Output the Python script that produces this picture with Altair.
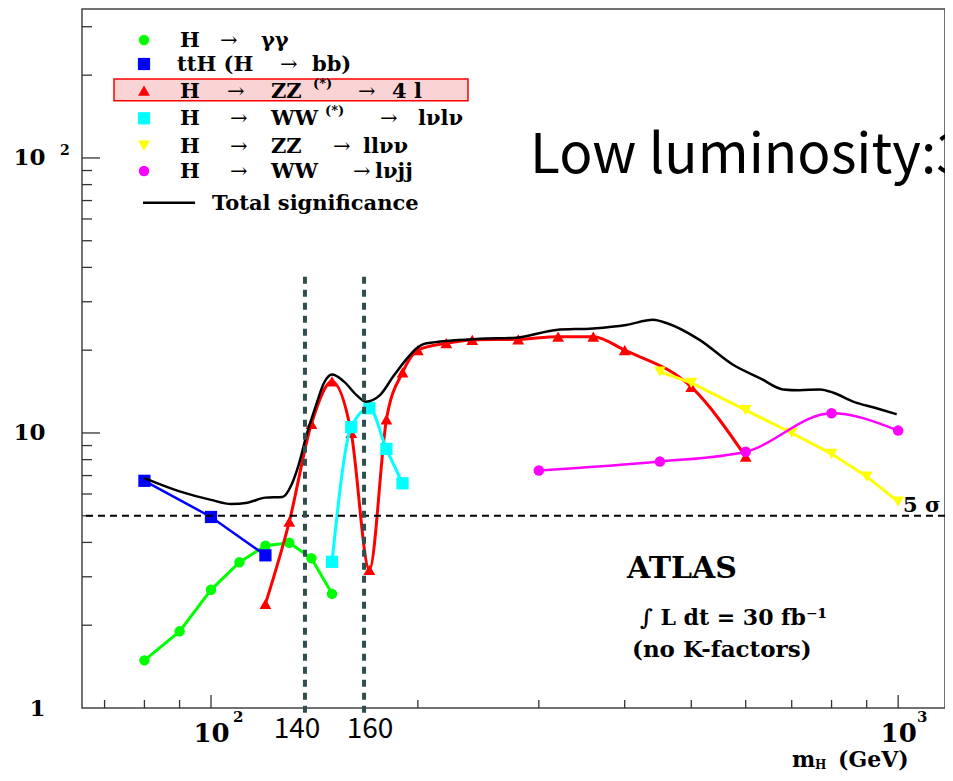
import altair as alt
import pandas as pd

# ---------------- data ----------------
gg_mass = [80, 90, 100, 110, 120, 130, 140, 150]
gg_sig = [1.49, 1.90, 2.69, 3.39, 3.89, 3.99, 3.50, 2.60]

tth_mass = [80, 100, 120]
tth_sig = [6.70, 4.95, 3.59]

zz4l_mass = [120, 130, 140, 150, 160, 170, 180, 190, 200, 220, 240, 280, 320, 360, 400, 500, 600]
zz4l_sig = [2.39, 4.76, 10.8, 15.4, 10.0, 3.18, 11.2, 16.6, 20.0, 21.2, 21.8, 21.9, 22.4, 22.4, 20.0, 14.7, 8.2]

wwlvlv_mass = [150, 160, 170, 180, 190]
wwlvlv_sig = [3.40, 10.5, 12.3, 8.75, 6.56]

zzllvv_mass = [450, 500, 600, 700, 800, 900, 1000]
zzllvv_sig = [16.7, 15.2, 12.1, 10.0, 8.4, 6.94, 5.63]

wwlvjj_mass = [300, 450, 600, 800, 1000]
wwlvjj_sig = [7.30, 7.87, 8.55, 11.8, 10.2]

total_mass = [80, 90, 100, 107, 113, 120, 127, 131, 134, 138, 142, 146, 150, 156, 163, 168,
              176, 184, 192, 199, 206, 246, 278, 318, 360, 402, 440, 460, 514, 575, 630,
              680, 718, 770, 805, 860, 930, 995]
total_sig = [6.85, 6.13, 5.71, 5.52, 5.58, 5.82, 5.85, 6.5, 7.6, 10.0, 12.5, 15.2, 16.3, 15.4,
             13.7, 13.0, 13.7, 16.0, 18.4, 20.3, 21.2, 22.0, 22.2, 23.7, 24.0, 24.7, 25.8,
             25.1, 21.8, 17.7, 15.8, 14.4, 14.3, 14.4, 14.0, 13.0, 12.3, 11.7]

five_sigma = [5]
marker_lines_mass = [137, 167]
marker_lines_top = [37, 37]
marker_lines_bottom = [0.96, 0.96]
marker_lines_labels = ["140", "160"]

x_major_ticks = [100, 1000]
x_minor_ticks = [70, 80, 90, 200, 300, 400, 500, 600, 700, 800, 900]
y_major_ticks = [10, 100]
y_minor_ticks = [2, 3, 4, 5, 6, 7, 8, 9, 20, 30, 40, 50, 60, 70, 80, 90, 200, 300]

legend_labels = ["H → γγ", "ttH (H → bb)", "H → ZZ(*) → 4 l", "H → WW(*) → lνlν",
                 "H → ZZ → llνν", "H → WW → lνjj", "Total significance"]

# ---------------- styling ----------------
SERIF = "DejaVu Serif"
SANS = "Noto Sans CJK JP"
W, H = 863, 699

xs = alt.Scale(type="log", domain=[64.9, 1170], nice=False, zero=False)
ys = alt.Scale(type="log", domain=[1, 348], nice=False, zero=False)

xaxis = alt.Axis(values=x_major_ticks, labelExpr="'10'", ticks=False, domain=False, grid=False,
                 title=None, labelFont=SERIF, labelFontWeight="bold", labelFontSize=26,
                 labelPadding=12, labelColor="black", labelFlush=False)
yaxis = alt.Axis(values=[1, 10, 100], labelExpr="datum.value == 1 ? '1' : '10'", ticks=False,
                 domain=False, grid=False, title=None, labelFont=SERIF, labelFontWeight="bold",
                 labelFontSize=23, labelPadding=37, labelColor="black")

one = pd.DataFrame({"k": [0]})
layers = []


def X(field):
    return alt.X(field, type="quantitative", scale=xs, axis=xaxis)


def Y(field):
    return alt.Y(field, type="quantitative", scale=ys, axis=yaxis)


def series(mass, sig, color, shape, size, interp, width):
    df = pd.DataFrame({"m": mass, "s": sig})
    base = alt.Chart(df).encode(x=X("m"), y=Y("s"))
    layers.append(base.mark_line(color=color, strokeWidth=width, interpolate=interp))
    layers.append(base.mark_point(shape=shape, filled=True, color=color, size=size, opacity=1))


# axis ticks (pointing inwards)
layers.append(alt.Chart(pd.DataFrame({"v": y_minor_ticks})).mark_rule(color="#333", strokeWidth=1.3)
              .encode(y=Y("v"), x=alt.value(0), x2=alt.value(10)))
layers.append(alt.Chart(pd.DataFrame({"v": y_major_ticks})).mark_rule(color="#333", strokeWidth=1.3)
              .encode(y=Y("v"), x=alt.value(0), x2=alt.value(18)))
layers.append(alt.Chart(pd.DataFrame({"v": x_minor_ticks})).mark_rule(color="#333", strokeWidth=1.3)
              .encode(x=X("v"), y=alt.value(H), y2=alt.value(H - 8)))
layers.append(alt.Chart(pd.DataFrame({"v": x_major_ticks})).mark_rule(color="#333", strokeWidth=1.3)
              .encode(x=X("v"), y=alt.value(H), y2=alt.value(H - 13)))

series(gg_mass, gg_sig, "#00ff00", "circle", 110, "linear", 3)
series(tth_mass, tth_sig, "#0000ff", "square", 150, "linear", 2.5)
series(zz4l_mass, zz4l_sig, "#ff0000", "triangle-up", 140, "monotone", 3)
series(wwlvlv_mass, wwlvlv_sig, "#00ffff", "square", 150, "monotone", 3)
series(zzllvv_mass, zzllvv_sig, "#ffff00", "triangle-down", 140, "linear", 3)
series(wwlvjj_mass, wwlvjj_sig, "#ff00ff", "circle", 110, "monotone", 2.5)

# total significance
layers.append(alt.Chart(pd.DataFrame({"m": total_mass, "s": total_sig}))
              .mark_line(color="black", strokeWidth=2.5, interpolate="monotone")
              .encode(x=X("m"), y=Y("s")))

# 5 sigma line
layers.append(alt.Chart(pd.DataFrame({"s": five_sigma}))
              .mark_rule(color="black", strokeWidth=2, strokeDash=[7, 5])
              .encode(y=Y("s")))

# vertical dashed marker lines
layers.append(alt.Chart(pd.DataFrame({"m": marker_lines_mass, "t": marker_lines_top,
                                      "b": marker_lines_bottom}))
              .mark_rule(color="#2f4f4f", strokeWidth=4, strokeDash=[7, 6])
              .encode(x=X("m"), y=Y("t"), y2="b"))


def txt(text, x, y, size, font=SERIF, weight="bold", align="left", color="black"):
    layers.append(alt.Chart(one).mark_text(text=text, font=font, fontWeight=weight,
                                           fontSize=size, align=align, baseline="alphabetic",
                                           color=color)
                  .encode(x=alt.value(x), y=alt.value(y)))


# axis superscripts and labels
txt("2", 151, 713, 15)
txt("3", 835, 713, 15)
txt("2", -22, 146, 14)
txt(marker_lines_labels[0], 215, 729, 28, font=SANS, weight="normal", align="center")
txt(marker_lines_labels[1], 288, 729, 28, font=SANS, weight="normal", align="center")
txt("m", 710, 758, 22)
txt("H", 733, 760, 12)
txt("(GeV)", 756, 758, 22)

# annotations
txt("Low luminosity:3", 448, 164, 55, font=SANS, weight="normal")
txt("ATLAS", 545, 569, 30)
txt("∫ L dt = 30 fb⁻¹", 558, 616, 22)
txt("(no K-factors)", 550, 648, 23)
txt("5 σ", 821, 503, 21)

# ---------------- legend ----------------
layers.append(alt.Chart(one).mark_rect(fill="#fad4d4", stroke="#ff0000", strokeWidth=1.5)
              .encode(x=alt.value(32), x2=alt.value(386), y=alt.value(70), y2=alt.value(91.7)))

leg_markers = [("circle", "#00ff00", 110, 31), ("square", "#0000ff", 150, 55),
               ("triangle-up", "#ff0000", 140, 81.7), ("square", "#00ffff", 150, 109.3),
               ("triangle-down", "#ffff00", 140, 136.7), ("circle", "#ff00ff", 110, 162)]
for shp, col, sz, yy in leg_markers:
    layers.append(alt.Chart(one).mark_point(shape=shp, filled=True, color=col, size=sz, opacity=1)
                  .encode(x=alt.value(62), y=alt.value(yy)))
layers.append(alt.Chart(one).mark_rule(color="black", strokeWidth=2.5)
              .encode(x=alt.value(61), x2=alt.value(113), y=alt.value(193.7)))

# legend text segments (x, baseline y, text, size, weight)
leg_segments = [
    (98, 38, "H", 21, "bold"), (138, 38, "→", 21, "normal"), (179, 38, "γγ", 21, "bold"),
    (95, 62, "ttH (H", 21, "bold"), (198, 62, "→", 21, "normal"), (230, 62, "bb)", 21, "bold"),
    (98, 88.7, "H", 21, "bold"), (145, 88.7, "→", 21, "normal"), (189, 88.7, "ZZ", 21, "bold"),
    (231, 79, "(*)", 13, "bold"), (276, 88.7, "→", 21, "normal"), (310, 88.7, "4 l", 21, "bold"),
    (98, 116.3, "H", 21, "bold"), (148, 116.3, "→", 21, "normal"), (189, 116.3, "WW", 21, "bold"),
    (243, 106, "(*)", 13, "bold"), (298, 116.3, "→", 21, "normal"), (336, 116.3, "lνlν", 21, "bold"),
    (98, 143.7, "H", 21, "bold"), (148, 143.7, "→", 21, "normal"), (189, 143.7, "ZZ", 21, "bold"),
    (251, 143.7, "→", 21, "normal"), (281, 143.7, "llνν", 21, "bold"),
    (98, 169, "H", 21, "bold"), (148, 169, "→", 21, "normal"), (189, 169, "WW", 21, "bold"),
    (271, 169, "→", 21, "normal"), (293, 169, "lνjj", 21, "bold"),
    (130, 200.7, legend_labels[6], 21, "bold"),
]
for sx, sy, st, ss, sw in leg_segments:
    txt(st, sx, sy, ss, weight=sw)

chart = alt.layer(*layers).properties(
    width=W, height=H,
    autosize=alt.AutoSizeParams(type="none"),
    padding={"left": 74, "top": 1, "right": 0, "bottom": 65},
    background="white",
).configure_view(stroke="#444", strokeWidth=1.5)

chart.save("out.html", embed_options={"renderer": "svg", "actions": False})
